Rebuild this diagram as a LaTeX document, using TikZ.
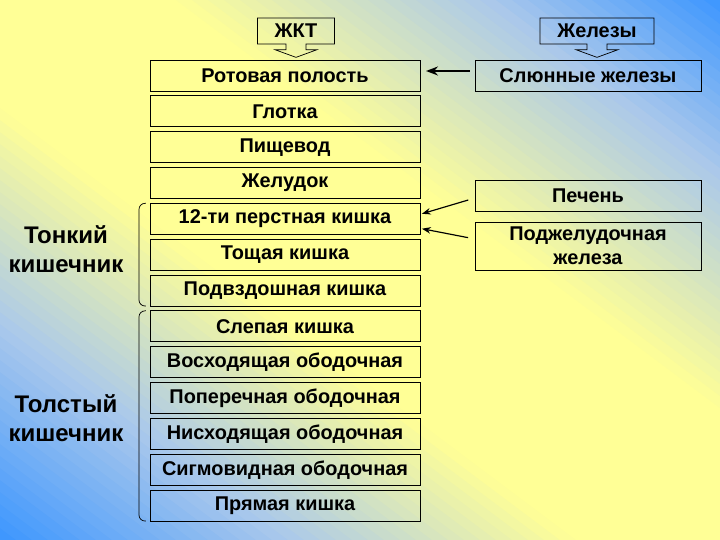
\documentclass[tikz,border=0pt]{standalone}
\usepackage{fontspec}
\setmainfont{Liberation Sans}
\usepackage{tikz}
\newcommand{\organwidth}{8.1cm}
\newcommand{\organheight}{0.93cm}
\definecolor{bgBlue}{RGB}{60,150,255}
\definecolor{bgLight}{RGB}{170,200,235}
\definecolor{bgYellow}{RGB}{255,255,150}
\usetikzlibrary{arrows.meta,calc,positioning,shapes.arrows}
\tikzset{
  >=Stealth,
  font=\fontsize{17}{19}\selectfont\bfseries,
  node distance=0.145cm,
  rect/.style={draw,shape=rectangle,minimum width=\organwidth,minimum height=\organheight,inner sep=1mm,outer sep=0pt,line width=0.8pt},
  gland/.style={rect,minimum width=6.78cm},
  hdr/.style={draw,shape=arrow box,line width=0.6pt,minimum height=0.78cm,inner sep=0.5mm,arrow box arrows={south:0.39cm},arrow box shaft width=0.6cm,arrow box head extend=0.33cm,arrow box head indent=0pt,arrow box tip angle=140},
  partlabel/.style={align=center,font=\fontsize{20.5}{24.75}\selectfont\bfseries},
  line/.style={draw,->,line width=1.6pt},
  feed/.style={draw,->,line width=1pt},
  brk/.style={draw,line width=0.6pt,rounded corners=0.18cm},
}
\begin{document}
\begin{tikzpicture}[x=0.03cm,y=-0.03cm]
  \useasboundingbox (0,0) rectangle (720,540);
  % backdrop
  \begin{scope}
    \clip (0,0) rectangle (720,540);
    \foreach \i in {0,...,89}{
      \pgfmathsetmacro{\ta}{16*\i}
      \pgfmathsetmacro{\tb}{16*(\i+2)}
      \pgfmathsetmacro{\tm}{(\i+0.5)/90}
      \pgfmathsetmacro{\dd}{abs(\tm-0.5)*2}
      \pgfmathsetmacro{\pp}{\tm<0.5 ? max(0,min(100,(\dd-0.2)*250)) : max(0,min(100,(\dd-0.24)*227))}
      \pgfmathsetmacro{\qq}{\tm<0.5 ? max(0,min(100,(\dd-0.6)*250)) : max(0,min(100,(\dd-0.68)*312))}
      \fill [fill={bgBlue!\qq!bgLight!\pp!bgYellow}] (\ta+1440,1620) -- (\ta-1440,-540) -- (\tb-1440,-540) -- (\tb+1440,1620) -- cycle;
    }
  \end{scope}
  % headers
  \node (zkt) [hdr,minimum width=2.31cm] at (296,31) {ЖКТ};
  \node (zhl) [hdr,minimum width=3.42cm] at (597,31) {Железы};
  % digestive tract
  \node (rot) [rect] at (285,75.5) {Ротовая полость};
  \node (glo) [rect,below=of rot] {Глотка};
  \node (pis) [rect,below=of glo] {Пищевод};
  \node (zhe) [rect,below=of pis] {Желудок};
  \node (duo) [rect,below=of zhe] {12-ти перстная кишка};
  \node (tos) [rect,below=of duo] {Тощая кишка};
  \node (ile) [rect,below=of tos] {Подвздошная кишка};
  \node (sle) [rect,below=of ile] {Слепая кишка};
  \node (vos) [rect,below=of sle] {Восходящая ободочная};
  \node (pop) [rect,below=of vos] {Поперечная ободочная};
  \node (nis) [rect,below=of pop] {Нисходящая ободочная};
  \node (sig) [rect,below=of nis] {Сигмовидная ободочная};
  \node (pry) [rect,below=of sig] {Прямая кишка};
  % glands
  \node (sal) [gland] at (588,75.5) {Слюнные железы};
  \node (pec) [gland] at (588,195.5) {Печень};
  \node (pod) [gland,minimum height=1.44cm,align=center] at (588,246) {Поджелудочная\\[1.5pt]железа};
  % intestine labels
  \node (ton) [partlabel] at (66,249.5) {Тонкий\\кишечник};
  \node (tol) [partlabel] at (66,418) {Толстый\\кишечник};
  \draw [brk] ([xshift=-0.12cm]duo.north west) -- ++(-7,0) |- ([xshift=-0.12cm]ile.south west);
  \draw [brk] ([xshift=-0.12cm]sle.north west) -- ++(-7,0) |- ([xshift=-0.12cm]pry.south west);
  % ducts
  \path [line,shorten <=0.15cm,shorten >=0.18cm] ([yshift=0.135cm]sal.west) -- ([yshift=0.135cm]rot.east);
  \path [feed,shorten <=0.21cm,shorten >=0.06cm] ([yshift=-0.075cm]pec.west) -- ([yshift=0.135cm]duo.east);
  \path [feed,shorten <=0.21cm,shorten >=0.06cm] ([yshift=0.21cm]pod.west) -- ([yshift=-0.285cm]duo.east);
\end{tikzpicture}
\end{document}
